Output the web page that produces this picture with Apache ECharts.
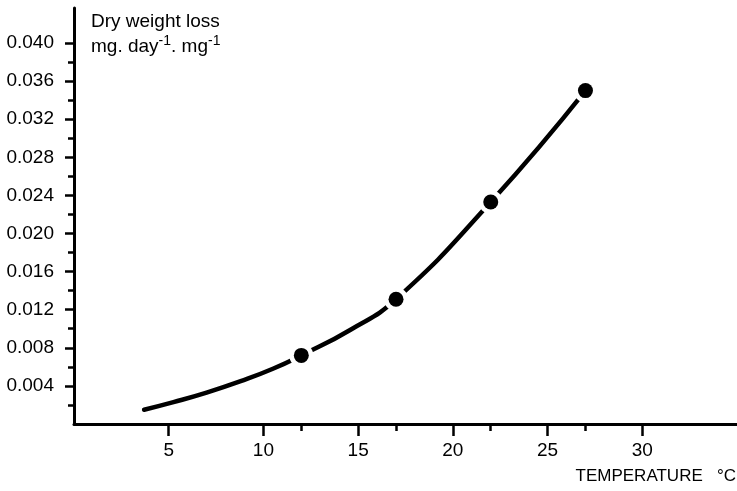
<!DOCTYPE html>
<html>
<head>
<meta charset="utf-8">
<script src="https://cdn.jsdelivr.net/npm/echarts@6/dist/echarts.min.js"></script>
<style>
html,body{margin:0;padding:0;background:#fff;}
#chart{width:737px;height:491px;}
</style>
</head>
<body>
<div id="chart"></div>
<script>
// Smooth fitted curve (temperature °C, dry weight loss mg/day/mg)
const curveTemp = [3.7, 5.25, 7.0, 8.8, 10.5, 12, 14.6, 17, 22, 27];
const curveLoss = [0.0015, 0.0023, 0.0033, 0.0045, 0.0058, 0.0072, 0.0099, 0.0131, 0.0233, 0.0350];
// Measured points
const measuredTemp = [12, 17, 22, 27];
const measuredLoss = [0.0072, 0.0131, 0.0233, 0.0350];
// Tick values
const xMajorTicks = [5, 10, 15, 20, 25, 30];
const xMinorTicks = [12, 17, 22, 27];
const yMajorTicks = [0.004, 0.008, 0.012, 0.016, 0.020, 0.024, 0.028, 0.032, 0.036, 0.040];
const yMinorTicks = [0.002, 0.006, 0.010, 0.014, 0.018, 0.022, 0.026, 0.030, 0.034, 0.038];
const xLabelText = 'TEMPERATURE   °C';
const yLabelLine1 = 'Dry weight loss';

const FONT = '"Liberation Sans", Arial, sans-serif';
const chart = echarts.init(document.getElementById('chart'), null, {renderer: 'canvas'});

const curve = curveTemp.map((t, i) => [t, curveLoss[i]]);
const pts = measuredTemp.map((t, i) => [t, measuredLoss[i]]);

const X_MIN = 0, X_MAX = 35, Y_MIN = 0, Y_MAX = 0.04367;

chart.setOption({
  animation: false,
  backgroundColor: '#fff',
  grid: {left: 74, right: 0, top: 8, bottom: 67, containLabel: false},
  xAxis: [
    {
      type: 'value', min: X_MIN, max: X_MAX, position: 'bottom',
      splitLine: {show: false},
      axisLine: {show: true, onZero: false, lineStyle: {color: '#000', width: 3}},
      axisTick: {show: true, customValues: xMajorTicks, length: 12, lineStyle: {color: '#000', width: 2.5}},
      axisLabel: {show: true, customValues: xMajorTicks, margin: 17, color: '#000', fontSize: 19, fontFamily: FONT}
    },
    {
      type: 'value', min: X_MIN, max: X_MAX, position: 'bottom',
      splitLine: {show: false},
      axisLine: {show: false},
      axisTick: {show: true, customValues: xMinorTicks, length: 7, lineStyle: {color: '#000', width: 2.5}},
      axisLabel: {show: false}
    }
  ],
  yAxis: [
    {
      type: 'value', min: Y_MIN, max: Y_MAX, position: 'left',
      splitLine: {show: false},
      axisLine: {show: true, onZero: false, lineStyle: {color: '#000', width: 3}},
      axisTick: {show: true, customValues: yMajorTicks, length: 9, lineStyle: {color: '#000', width: 2.5}},
      axisLabel: {show: true, customValues: yMajorTicks, margin: 20, color: '#000', fontSize: 19, fontFamily: FONT,
        formatter: v => v.toFixed(3)}
    },
    {
      type: 'value', min: Y_MIN, max: Y_MAX, position: 'left',
      splitLine: {show: false},
      axisLine: {show: false},
      axisTick: {show: true, customValues: yMinorTicks, length: 6, lineStyle: {color: '#000', width: 2.5}},
      axisLabel: {show: false}
    }
  ],
  graphic: [
    {
      type: 'text', left: 91, top: 12,
      style: {text: yLabelLine1, fill: '#000', font: '19px ' + FONT}
    },
    {
      type: 'text', left: 91, top: 34,
      style: {
        text: '{n|mg. day}{s|-1}{n|. mg}{s|-1}',
        rich: {
          n: {fontSize: 19, fontFamily: FONT, fill: '#000', color: '#000', lineHeight: 22, verticalAlign: 'bottom'},
          s: {fontSize: 14, fontFamily: FONT, fill: '#000', color: '#000', lineHeight: 14, verticalAlign: 'top'}
        }
      }
    },
    {
      type: 'text', right: 1, top: 468,
      style: {text: xLabelText, fill: '#000', font: '17px ' + FONT}
    }
  ],
  series: [
    {
      type: 'line', xAxisIndex: 0, yAxisIndex: 0, data: curve, smooth: 0.5,
      showSymbol: false, symbol: 'none',
      lineStyle: {color: '#000', width: 4.5, cap: 'round'}, z: 2
    },
    {
      type: 'scatter', xAxisIndex: 0, yAxisIndex: 0, data: pts, symbol: 'circle', symbolSize: 24,
      itemStyle: {color: '#fff', opacity: 1}, z: 3, silent: true
    },
    {
      type: 'scatter', xAxisIndex: 0, yAxisIndex: 0, data: pts, symbol: 'circle', symbolSize: 15,
      itemStyle: {color: '#000', opacity: 1}, z: 4, silent: true
    }
  ]
});
</script>
</body>
</html>
